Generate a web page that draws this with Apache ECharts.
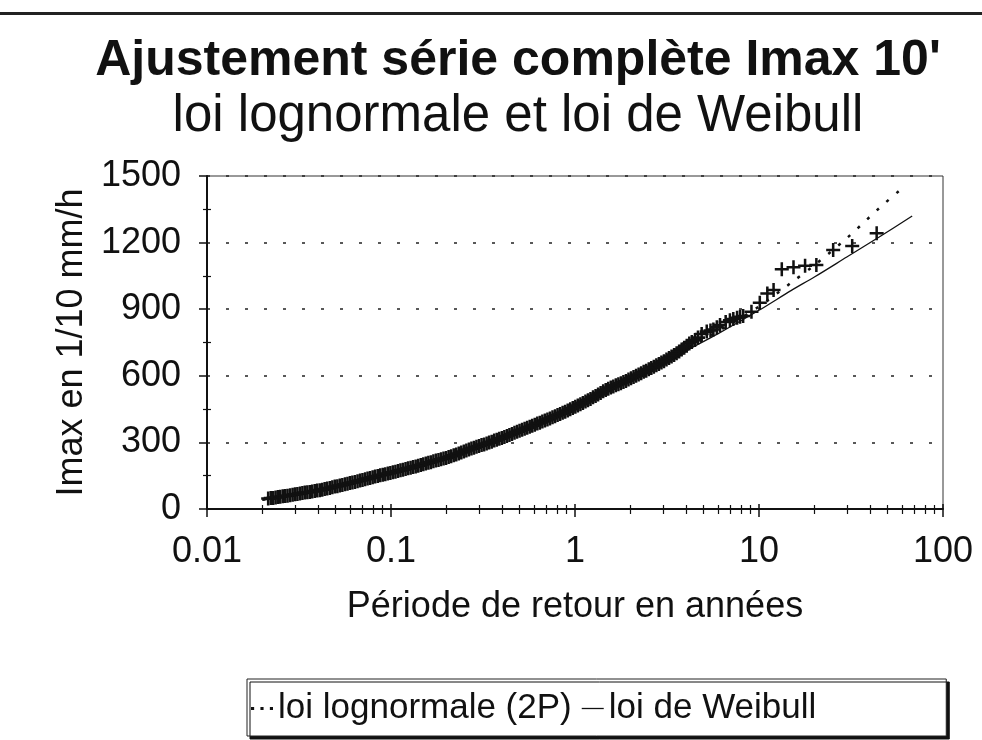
<!DOCTYPE html>
<html>
<head>
<meta charset="utf-8">
<script src="https://cdn.jsdelivr.net/npm/echarts@6/dist/echarts.min.js"></script>
<style>
  html, body { margin: 0; background: #fff; }
  #chart { width: 982px; height: 740px; }
</style>
</head>
<body>
<div id="chart"></div>
<script>
  // observations : [période de retour (années), Imax (1/10 mm/h)]
  const observations = [
    [0.0215,47],[0.0222,49],[0.0229,50],[0.0236,52],[0.0243,54],[0.025,55],[0.0258,57],[0.0266,59],
    [0.0274,60],[0.0283,62],[0.0292,64],[0.0301,66],[0.031,68],[0.032,70],[0.033,72],[0.034,74],
    [0.0351,75],[0.0362,77],[0.0373,79],[0.0385,81],[0.0397,83],[0.041,85],[0.0423,87],[0.0436,90],
    [0.045,92],[0.0465,95],[0.048,98],[0.0495,101],[0.0511,103],[0.0527,106],[0.0544,108],[0.0562,111],
    [0.058,114],[0.0598,117],[0.0617,119],[0.0637,122],[0.0658,125],[0.0679,128],[0.07,131],[0.0723,134],
    [0.0746,137],[0.077,140],[0.0795,143],[0.082,146],[0.0847,149],[0.0874,152],[0.0902,154],[0.0931,157],
    [0.0961,160],[0.0992,162],[0.1024,165],[0.1057,168],[0.1091,171],[0.1126,174],[0.1162,177],[0.12,180],
    [0.1238,183],[0.1278,186],[0.1319,189],[0.1362,192],[0.1406,195],[0.1451,198],[0.1498,202],[0.1546,205],
    [0.1596,208],[0.1647,211],[0.17,215],[0.1755,218],[0.1812,221],[0.187,224],[0.193,227],[0.1993,230],
    [0.2057,234],[0.2123,238],[0.2192,242],[0.2262,246],[0.2335,250],[0.241,255],[0.2488,259],[0.2568,263],
    [0.2651,268],[0.2736,272],[0.2824,276],[0.2915,280],[0.3009,284],[0.3106,288],[0.3206,291],[0.331,295],
    [0.3416,299],[0.3526,303],[0.364,308],[0.3757,312],[0.3878,316],[0.4003,320],[0.4132,324],[0.4265,329],
    [0.4402,333],[0.4544,338],[0.469,343],[0.4841,348],[0.4997,353],[0.5158,357],[0.5324,362],[0.5496,366],
    [0.5673,371],[0.5856,375],[0.6044,380],[0.6239,385],[0.644,389],[0.6647,394],[0.6861,399],[0.7083,403],
    [0.7311,408],[0.7546,413],[0.779,418],[0.804,423],[0.83,428],[0.8567,433],[0.8843,438],[0.9128,444],
    [0.9422,449],[0.9726,455],[1.004,461],[1.036,466],[1.07,472],[1.104,478],[1.14,484],[1.176,490],
    [1.214,496],[1.253,503],[1.294,509],[1.335,516],[1.378,523],[1.423,530],[1.469,536],[1.516,542],
    [1.565,547],[1.615,552],[1.667,557],[1.721,562],[1.776,567],[1.833,572],[1.892,577],[1.953,583],
    [2.016,589],[2.081,595],[2.148,600],[2.217,606],[2.289,612],[2.362,618],[2.438,623],[2.517,629],
    [2.598,635],[2.682,641],[2.768,647],[2.857,653],[2.949,660],[3.044,666],[3.142,673],[3.243,680],
    [3.348,687],[3.456,694],[3.567,702],[3.682,710],[3.8,718],[3.923,726],[4.049,735],[4.18,745],
    [4.314,752],[4.49,761],[4.66,772],[4.88,788],[5.2,799],[5.45,804],[5.65,809],[5.9,819],
    [6.14,829],[6.59,842],[6.95,850],[7.25,856],[7.6,862],[7.89,866],[8.2,869],[9.1,889],
    [10.1,929],[11.1,971],[12.0,986],[13.3,1080],[15.4,1089],[17.8,1096],[20.5,1099],[25.3,1167],
    [32.1,1185],[43.6,1242]
  ]

  // loi de Weibull
  const weibullT = [0.02, 0.03, 0.05, 0.1, 0.2, 0.3, 0.5, 0.7, 1, 1.5, 2, 3, 4, 6, 10, 15, 20, 30, 45, 68]
  const weibullI = [40, 62, 98, 160, 228, 280, 350, 402, 462, 532, 582, 655, 712, 790, 895, 985, 1045, 1135, 1225, 1320]

  // loi lognormale (2P)
  const lognormT = [0.02, 0.03, 0.05, 0.1, 0.2, 0.3, 0.5, 0.7, 1, 1.5, 2, 3, 4, 6, 10, 15, 20, 30, 45, 60]
  const lognormI = [42, 64, 100, 160, 228, 282, 352, 405, 466, 538, 590, 662, 718, 800, 912, 1020, 1098, 1220, 1355, 1445]

  const FONT = '"Liberation Sans", Arial, sans-serif'
  const INK = '#111'
  // croix "+" pour les points observés
  const CROSS = 'path://M0,4.1H10V5.9H0Z M4.1,0H5.9V10H4.1Z'
  // icones de légende
  const ICON_DOTS = 'path://M0,4H3V7H0Z M9,4H12V7H9Z M18,4H21V7H18Z'
  const ICON_LINE = 'path://M0,4.8H24V6.2H0Z'

  const zip = (xs, ys) => xs.map((x, i) => [x, ys[i]])

  let myChart = echarts.init(document.getElementById('chart'))

  myChart.setOption({
    backgroundColor: '#fff',
    animation: false,
    textStyle: { fontFamily: FONT, color: INK },
    graphic: [
      { type: 'rect', shape: { x: 0, y: 12, width: 982, height: 3 }, style: { fill: '#222' } },
      {
        type: 'text', x: 518, y: 61,
        style: { text: "Ajustement série complète Imax 10'", font: 'bold 50px ' + FONT, fill: INK, align: 'center', verticalAlign: 'middle' }
      },
      {
        type: 'text', x: 518, y: 117,
        style: { text: 'loi lognormale et loi de Weibull', font: '51px ' + FONT, fill: INK, align: 'center', verticalAlign: 'middle' }
      }
    ],
    grid: {
      left: 207, right: 39, top: 176, bottom: 231,
      show: true, borderColor: '#333', borderWidth: 1
    },
    legend: {
      left: 247, top: 679,
      padding: [12, 130, 10, 4],
      backgroundColor: '#fff',
      borderColor: '#222', borderWidth: 1,
      shadowColor: '#111', shadowOffsetX: 3, shadowOffsetY: 3, shadowBlur: 0,
      itemWidth: 22, itemHeight: 12, itemGap: 10,
      data: [
        { name: 'loi lognormale (2P)', icon: ICON_DOTS },
        { name: 'loi de Weibull', icon: ICON_LINE }
      ],
      textStyle: { fontSize: 35, color: INK, fontFamily: FONT }
    },
    xAxis: [
      {
        type: 'log', logBase: 10, min: 0.01, max: 100,
        name: 'Période de retour en années', nameLocation: 'middle', nameGap: 80,
        nameTextStyle: { fontSize: 36, color: INK, fontFamily: FONT },
        axisLine: { lineStyle: { color: INK, width: 2 } },
        axisTick: { length: 8, lineStyle: { color: INK, width: 1.5 } },
        minorTick: { show: true, splitNumber: 9, length: 5, lineStyle: { color: INK, width: 1.2 } },
        axisLabel: { fontSize: 36, color: INK, margin: 25, fontFamily: FONT },
        splitLine: { show: false }
      },
      {
        type: 'log', logBase: 10, min: 0.01, max: 100, position: 'bottom',
        axisLine: { show: false },
        axisTick: { inside: true, length: 5, lineStyle: { color: INK, width: 1.5 } },
        minorTick: { show: true, splitNumber: 9, length: 4, lineStyle: { color: INK, width: 1.2 } },
        axisLabel: { show: false },
        splitLine: { show: false }
      }
    ],
    yAxis: [
      {
        type: 'value', min: 0, max: 1500, interval: 300,
        name: 'Imax en 1/10 mm/h', nameLocation: 'middle', nameGap: 68, nameRotate: 90,
        nameTextStyle: { fontSize: 36, color: INK, fontFamily: FONT },
        axisLine: { show: true, lineStyle: { color: INK, width: 2 } },
        axisTick: { show: true, length: 8, lineStyle: { color: INK, width: 1.5 } },
        minorTick: { show: true, splitNumber: 2, length: 4, lineStyle: { color: INK, width: 1.2 } },
        axisLabel: { fontSize: 36, color: INK, margin: 26, fontFamily: FONT, formatter: v => String(v) },
        splitLine: { show: true, lineStyle: { color: '#222', width: 1.5, type: [3, 16] } }
      },
      {
        type: 'value', min: 0, max: 1500, interval: 300, position: 'left',
        axisLine: { show: false },
        axisTick: { show: false, inside: true },
        minorTick: { show: true, splitNumber: 2, length: 4, lineStyle: { color: INK, width: 1.2 } },
        axisLabel: { show: false },
        splitLine: { show: false }
      }
    ],
    series: [
      {
        name: 'observations',
        type: 'scatter',
        symbol: CROSS,
        symbolSize: 14,
        itemStyle: { color: INK, opacity: 1 },
        data: observations,
        z: 2
      },
      {
        name: 'loi lognormale (2P)',
        type: 'line',
        showSymbol: false, symbol: 'none',
        smooth: 0.3,
        itemStyle: { color: INK },
        lineStyle: { color: INK, width: 2.5, type: [3, 10] },
        data: zip(lognormT, lognormI),
        z: 3
      },
      {
        name: 'loi de Weibull',
        type: 'line',
        showSymbol: false, symbol: 'none',
        smooth: 0.3,
        itemStyle: { color: INK },
        lineStyle: { color: INK, width: 1.3 },
        data: zip(weibullT, weibullI),
        z: 3
      }
    ]
  })
</script>
</body>
</html>
